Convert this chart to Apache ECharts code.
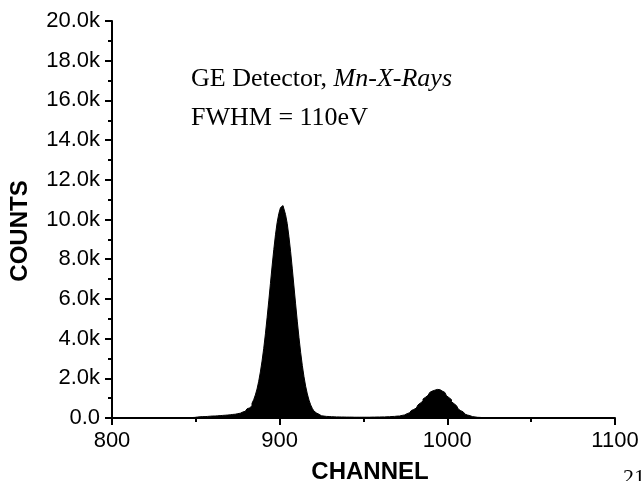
<!DOCTYPE html>
<html>
<head>
<meta charset="utf-8">
<script src="https://cdn.jsdelivr.net/npm/echarts@6/dist/echarts.min.js"></script>
<style>
  html, body { margin: 0; padding: 0; background: #ffffff; }
  #chart { width: 642px; height: 481px; }
</style>
</head>
<body>
<div id="chart"></div>
<script>
// Ge detector pulse-height spectrum of Mn X-rays (counts per channel)
const channelStart = 845;
const counts = [
  10, 15, 20, 25, 30,
  40, 50, 60, 60, 70, 70, 80, 80, 90, 90,
  100, 100, 110, 110, 120, 120, 130, 140, 140, 150,
  160, 170, 180, 190, 200, 220, 240, 260, 300, 340,
  400, 460, 510, 610, 740, 920, 1160, 1460, 1850, 2320,
  2870, 3510, 4240, 5050, 5900, 6780, 7660, 8490, 9230, 9850,
  10300, 10600, 10700, 10550, 10250, 9800, 9150, 8400, 7550, 6650,
  5750, 4880, 4060, 3310, 2650, 2080, 1600, 1210, 900, 660,
  480, 345, 250, 185, 140, 110, 95, 85, 80, 75,
  70, 65, 60, 60, 55, 55, 50, 50, 50, 50,
  45, 45, 45, 45, 40, 40, 40, 40, 40, 40,
  40, 40, 40, 40, 40, 45, 45, 45, 50, 50,
  50, 55, 55, 60, 60, 65, 70, 75, 80, 90,
  95, 100, 110, 130, 155, 185, 220, 265, 315, 375,
  430, 500, 580, 660, 760, 850, 955, 1045, 1140, 1220,
  1290, 1355, 1400, 1430, 1440, 1430, 1400, 1355, 1290, 1210,
  1120, 1025, 925, 820, 720, 620, 530, 450, 370, 305,
  245, 195, 150, 118, 90, 70, 55, 45, 35, 30,
  25, 20, 15, 15, 10, 10, 5, 5, 0, 0
];
const yTickLabels = ['0.0', '2.0k', '4.0k', '6.0k', '8.0k', '10.0k',
  '12.0k', '14.0k', '16.0k', '18.0k', '20.0k'];
const xTickLabels = ['800', '900', '1000', '1100'];

const spectrum = counts.map((c, i) => [channelStart + i, c]);

const chart = echarts.init(document.getElementById('chart'), null, { renderer: 'canvas' });

const axisCommon = {
  axisLine: { show: true, onZero: false, lineStyle: { color: '#000', width: 2 } },
  axisTick: { show: true, inside: false, length: 7, lineStyle: { color: '#000', width: 2 } },
  minorTick: { show: true, splitNumber: 2, length: 4, lineStyle: { color: '#000', width: 2 } },
  splitLine: { show: false },
  minorSplitLine: { show: false }
};

const serif = { fontFamily: 'Liberation Serif', fontSize: 26, fontWeight: 'normal', color: '#000', lineHeight: 39 };

chart.setOption({
  animation: false,
  backgroundColor: '#ffffff',
  grid: { left: 112, right: 27, top: 21, bottom: 63, containLabel: false, outerBoundsMode: 'none' },
  title: {
    left: 186,
    top: 55,
    text: '{n|GE Detector, }{i|Mn-X-Rays}\n{n|FWHM = 110eV}',
    textStyle: {
      fontWeight: 'normal',
      rich: {
        n: serif,
        i: Object.assign({}, serif, { fontStyle: 'italic' })
      }
    }
  },
  graphic: [{
    type: 'text',
    x: 20,
    y: 231,
    rotation: Math.PI / 2,
    style: {
      text: 'COUNTS',
      font: 'bold 24px "Liberation Sans"',
      fill: '#000',
      align: 'center',
      verticalAlign: 'middle'
    }
  }, {
    type: 'text',
    left: 623,
    top: 467,
    style: { text: '21', font: '22px "Liberation Serif"', fill: '#000' }
  }],
  xAxis: Object.assign({
    type: 'value',
    min: 800,
    max: 1100,
    interval: 100,
    name: 'CHANNEL',
    nameLocation: 'middle',
    nameGap: 42,
    nameTextStyle: { fontFamily: 'Liberation Sans', fontWeight: 'bold', fontSize: 24, color: '#000', padding: [0, 0, 0, 13] },
    axisLabel: {
      margin: 12,
      fontFamily: 'Liberation Sans', fontSize: 22, color: '#000',
      formatter: v => xTickLabels[Math.round((v - 800) / 100)]
    }
  }, axisCommon),
  yAxis: Object.assign({
    type: 'value',
    min: 0,
    max: 20000,
    interval: 2000,
    axisLabel: {
      margin: 12,
      fontFamily: 'Liberation Sans', fontSize: 22, color: '#000',
      formatter: v => yTickLabels[Math.round(v / 2000)]
    }
  }, axisCommon),
  series: [{
    type: 'line',
    data: spectrum,
    step: 'middle',
    showSymbol: false,
    symbol: 'none',
    lineStyle: { color: '#000', width: 1 },
    areaStyle: { color: '#000', opacity: 1 },
    silent: true
  }]
});
</script>
</body>
</html>
